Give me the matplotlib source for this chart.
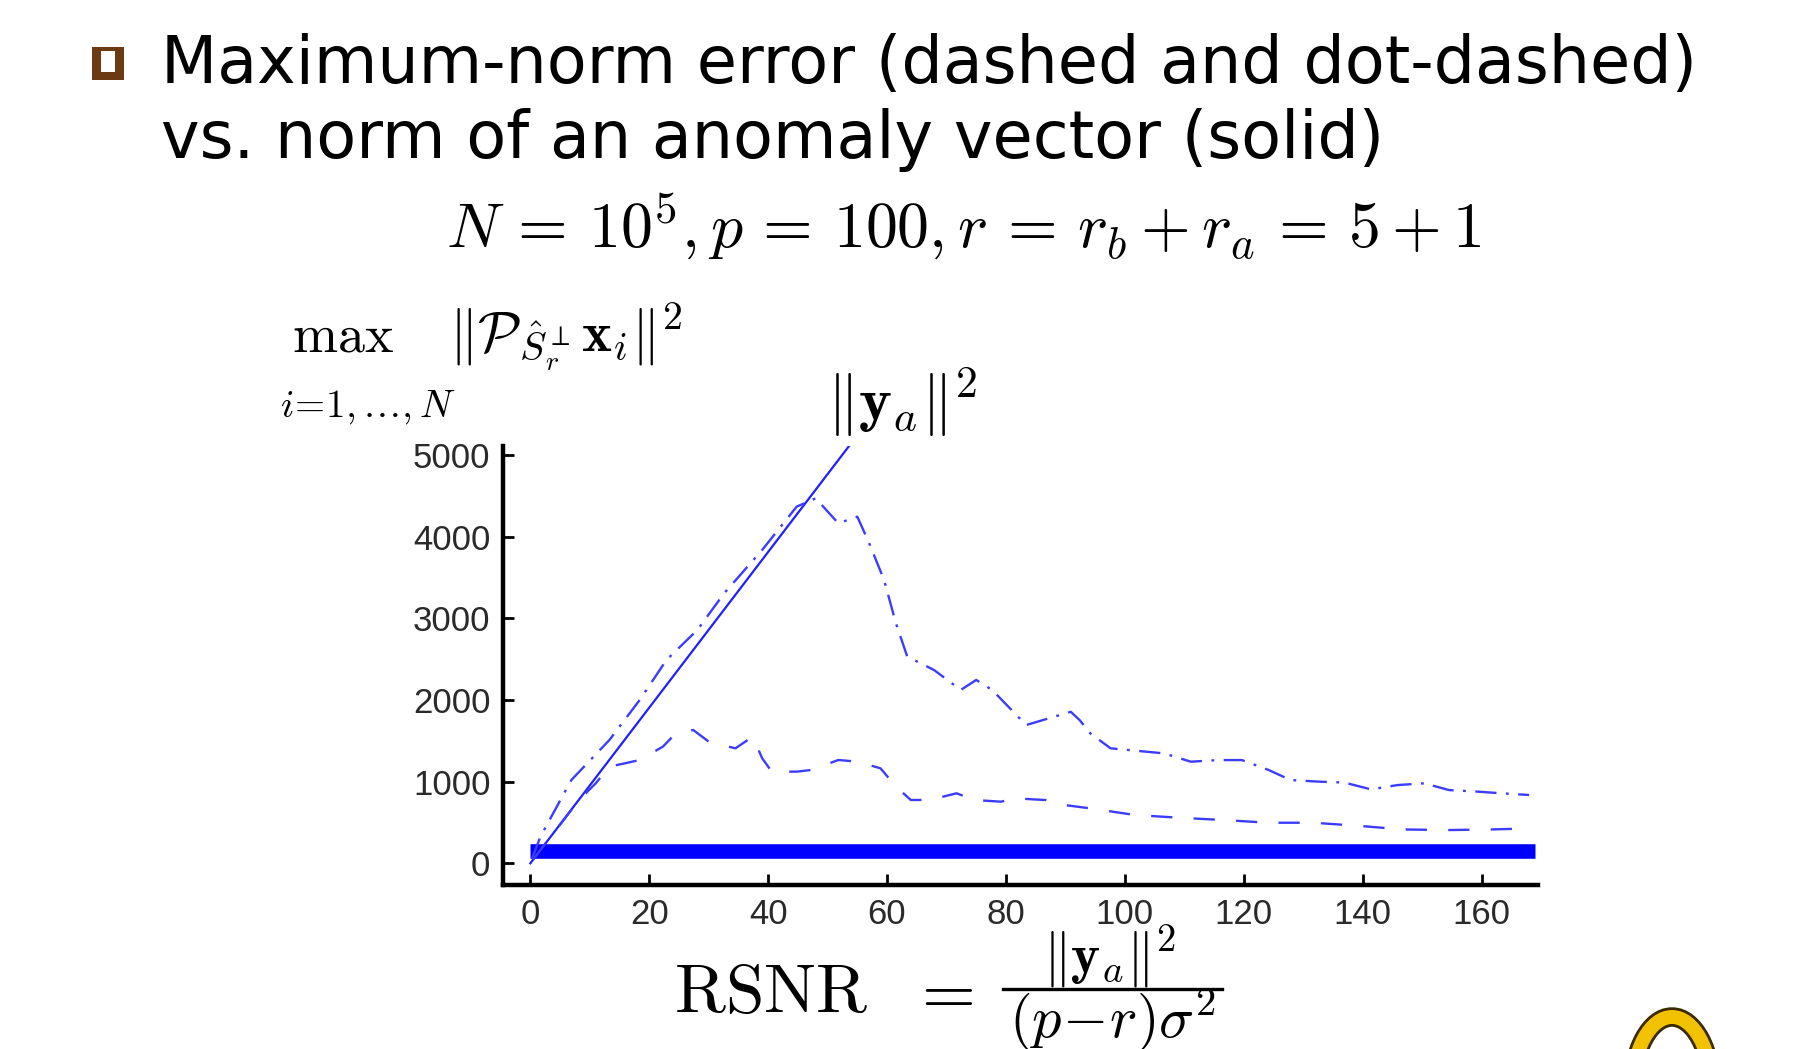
import matplotlib
matplotlib.use("Agg")
import matplotlib.pyplot as plt
from matplotlib.patches import Rectangle, Ellipse
from matplotlib.lines import Line2D

plt.rcParams['mathtext.fontset'] = 'cm'

W, H = 1807, 1049

# solid line: ||y_a||^2 against RSNR
solid_x = [0, 54.2]
solid_y = [0, 5170]

# thick solid line along the bottom
base_x = [0, 169]
base_y = [155, 155]

# dot-dashed max-norm error
dashdot_x = [0.3, 1.7, 6.9, 13.3, 18.4, 22.9, 28.1, 32.6, 39.0, 44.8, 48.0, 51.8, 55.0, 57.0,
             59.5, 61.5, 63.4, 67.9, 72.4, 75.0, 77.7, 83.4, 86.2, 90.9, 92.4, 94.2, 97.6,
             106.6, 111.1, 115.6, 119.7, 124.2, 127.9, 132.8, 136.9, 141.4, 145.9, 150.4,
             154.5, 159.4, 163.5, 168.0]
dashdot_y = [60, 327, 1021, 1511, 2002, 2492, 2860, 3309, 3840, 4371, 4473, 4167, 4248, 3922,
             3472, 2941, 2533, 2369, 2124, 2247, 2123, 1694, 1755, 1857, 1755, 1592, 1409,
             1347, 1245, 1265, 1265, 1143, 1020, 1000, 990, 906, 959, 980,
             898, 878, 857, 837]

# dashed max-norm error
dash_x = [0.4, 4.3, 8.2, 11.0, 13.3, 15.9, 18.4, 22.3, 24.2, 27.4, 30.0, 34.5, 37.4, 39.0,
          40.6, 44.8, 47.3, 51.8, 55.0, 58.9, 61.5, 64.0, 67.2, 71.7, 74.6, 79.2, 81.5,
          86.7, 88.6, 94.2, 101.7, 109.2, 116.7, 124.2, 131.7, 139.2, 146.7, 154.1, 161.6, 168.0]
dash_y = [41, 408, 776, 980, 1185, 1225, 1266, 1430, 1573, 1634, 1491, 1409, 1552, 1287,
          1123, 1123, 1144, 1266, 1246, 1164, 940, 776, 776, 858, 776, 755, 796,
          775, 726, 673, 592, 558, 530, 497, 497, 460, 415, 407, 415, 427]

xticks = [0, 20, 40, 60, 80, 100, 120, 140, 160]
yticks = [0, 1000, 2000, 3000, 4000, 5000]

line_blue = '#3c3cff'

fig = plt.figure(figsize=(W / 100, H / 100), dpi=100)
ax = fig.add_axes([503 / W, 1 - 885 / H, (1538 - 503) / W, (885 - 446) / H])

ax.plot(base_x, base_y, color='#0000ff', lw=10.5, solid_capstyle='butt')
ax.plot(solid_x, solid_y, color='#2020ff', lw=1.6)
ax.plot(dash_x, dash_y, color=line_blue, lw=1.7, dashes=(9, 9))
ax.plot(dashdot_x, dashdot_y, color=line_blue, lw=1.7, dashes=(9, 4, 1.2, 4))

ax.set_xlim(-4.6, 169.5)
ax.set_ylim(-266, 5114)
ax.set_xticks(xticks)
ax.set_yticks(yticks)
for side in ['top', 'right']:
    ax.spines[side].set_visible(False)
for side in ['left', 'bottom']:
    ax.spines[side].set_linewidth(3.2)
ax.tick_params(direction='in', length=8, width=2, labelsize=25, pad=9,
               labelcolor='#2a2a2a')
for lab in ax.get_xticklabels() + ax.get_yticklabels():
    lab.set_fontfamily('Liberation Sans')


def px(x, y):
    return x / W, 1 - y / H


# bullet square
fig.patches.append(Rectangle(px(92, 80), 32 / W, 33 / H, transform=fig.transFigure,
                             facecolor='#6b3a12', edgecolor='none'))
fig.patches.append(Rectangle(px(101, 72), 14 / W, 21 / H, transform=fig.transFigure,
                             facecolor='white', edgecolor='none'))

fig.text(*px(161, 83), 'Maximum-norm error (dashed and dot-dashed)',
         fontsize=47, family='DejaVu Sans', va='baseline', ha='left')
fig.text(*px(161, 158), 'vs. norm of an anomaly vector (solid)',
         fontsize=47, family='DejaVu Sans', va='baseline', ha='left')
fig.text(*px(964, 248), r'$N\,=\,10^5,p\,=\,100,r\,=\,r_b+r_a\,=\,5+1$',
         fontsize=46, va='baseline', ha='center')

fig.text(*px(292, 351), r'$\max$', fontsize=39, va='baseline', ha='left')
fig.text(*px(449, 351), r'$\|\mathcal{P}_{\hat{S}_r^{\perp}}\mathbf{x}_i\|^2$',
         fontsize=41, va='baseline', ha='left')
fig.text(*px(280, 417), r'$i\!=\!1,\ldots,N$', fontsize=28, va='baseline', ha='left')
fig.text(*px(902, 421), r'$\|\mathbf{y}_a\|^2$', fontsize=45, va='baseline', ha='center')

# x label: RSNR = ||y_a||^2 / ((p-r) sigma^2)
fig.text(*px(674, 1012), r'$\mathrm{RSNR}$', fontsize=50, va='baseline', ha='left')
fig.text(*px(941, 1012), r'$=$', fontsize=50, va='baseline', ha='center')
fig.text(*px(1110, 973), r'$\|\mathbf{y}_a\|^2$', fontsize=40, va='baseline', ha='center')
fig.add_artist(Line2D([1003 / W, 1222 / W], [1 - 989 / H, 1 - 989 / H],
                      transform=fig.transFigure, color='black', lw=2.4))
fig.text(*px(1112, 1037), r'$(p\!-\!r)\sigma^2$', fontsize=42, va='baseline', ha='center')

# logo at the lower right corner
fig.patches.append(Ellipse(px(1672, 1092), 80 / W, 150 / H, transform=fig.transFigure,
                           fill=False, edgecolor='#3a2a00', lw=14))
fig.patches.append(Ellipse(px(1672, 1092), 80 / W, 150 / H, transform=fig.transFigure,
                           fill=False, edgecolor='#f2c200', lw=10))

fig.savefig('out.png', dpi=100)
